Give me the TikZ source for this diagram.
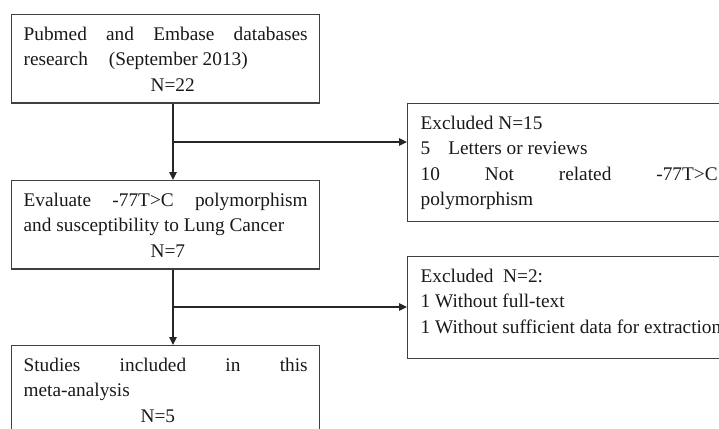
\documentclass[tikz,border=0pt]{standalone}
\usepackage{fontspec}
\setmainfont{Liberation Serif}
\usetikzlibrary{arrows.meta,calc}
\tolerance=10000
\hyphenpenalty=10000
\setlength{\parindent}{0pt}

\begin{document}
\begin{tikzpicture}[x=1pt,y=1pt,
		box/.style={draw=black!75,line width=1.3pt,anchor=north west,align=justify,inner xsep=12pt,inner ysep=12pt,text=black!90,font=\fontsize{19.3}{25.5}\selectfont},
		arr/.style={draw=black!85,line width=1.1pt,-{Triangle[length=8pt,width=7.5pt]}}]
		\useasboundingbox (0,0) rectangle (719,-428);
		\clip (0,0) rectangle (719,-428);
		% left column
		\node[box,text width=284pt] (search) at (11,-14) {Pubmed and Embase databases\linebreak research\hspace{21pt}(September 2013)\par\hspace*{127pt}N=22};
		\node[box,text width=284pt] (eval) at (11,-180) {Evaluate -77T>C polymorphism\linebreak and susceptibility to Lung Cancer\par\hspace*{127pt}N=7};
		\node[box,text width=284pt] (incl) at (11,-345) {Studies included in this\linebreak meta-analysis\par\hspace*{117pt}N=5};
		% right column
		\node[box,inner xsep=13pt,text width=297pt] (excl1) at (407,-103) {Excluded N=15\par 5\hspace{18pt}Letters or reviews\par 10 Not related -77T>C\linebreak polymorphism};
		\node[box,inner xsep=13pt,text width=320pt] (excl2) at (407,-256) {Excluded\ \ N=2:\par 1 Without full-text\par 1 Without sufficient data for extraction\par\vspace{13pt}};
		\path (173,-142) coordinate (b1) (173,-307) coordinate (b2);
		\draw[arr] (search.south -| b1) -- (eval.north -| b1);
		\draw[arr] (b1) -- (excl1.west |- b1);
		\draw[arr] (eval.south -| b2) -- (incl.north -| b2);
		\draw[arr] (b2) -- (excl2.west |- b2);
	\end{tikzpicture}
\end{document}
